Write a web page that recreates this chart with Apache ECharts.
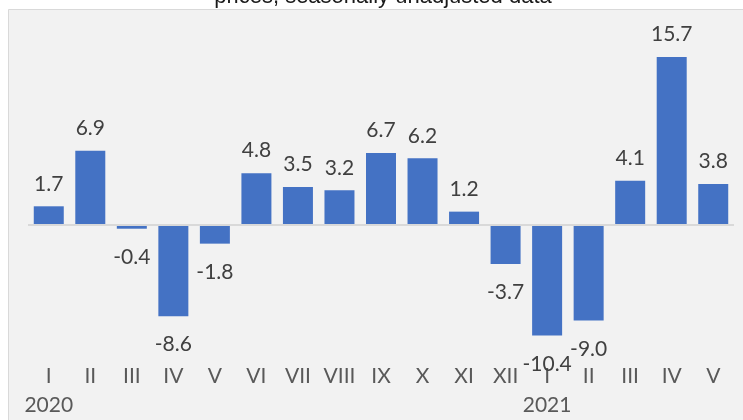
<!DOCTYPE html>
<html>
<head>
<meta charset="utf-8">
<script src="https://cdn.jsdelivr.net/npm/echarts@6/dist/echarts.min.js"></script>
<style>
html,body{margin:0;padding:0;background:#fff;}
#c{width:743px;height:420px;}
</style>
</head>
<body>
<div id="c"></div>
<script>
var categories = ['I','II','III','IV','V','VI','VII','VIII','IX','X','XI','XII','I','II','III','IV','V'];
var years = ['2020','','','','','','','','','','','','2021','','','',''];
var values = [1.7, 6.9, -0.4, -8.6, -1.8, 4.8, 3.5, 3.2, 6.7, 6.2, 1.2, -3.7, -10.4, -9.0, 4.1, 15.7, 3.8];
var titleText = 'prices, seasonally unadjusted data';

var chart = echarts.init(document.getElementById('c'));
var seriesData = values.map(function (v) {
  return {
    value: v,
    label: v >= 0 ? { position: 'top', distance: 12 } : { position: 'bottom', distance: 18 }
  };
});
chart.setOption({
  backgroundColor: '#ffffff',
  animation: false,
  graphic: [
    {
      type: 'rect', z: -10, silent: true,
      shape: { x: 8.5, y: 9.5, width: 740, height: 420 },
      style: { fill: '#f2f2f2', stroke: '#d9d9d9', lineWidth: 1 }
    },
    {
      type: 'text', z: 10, silent: true,
      x: 383, y: -3,
      style: {
        text: titleText, align: 'center', verticalAlign: 'middle',
        font: '22px "Liberation Sans", Arial, sans-serif', fill: '#1a1a1a'
      }
    }
  ],
  grid: { left: 28, right: 9, top: 53.7, bottom: 63, containLabel: false },
  xAxis: {
    type: 'category',
    data: categories,
    axisLine: { show: false, onZero: false },
    axisTick: { show: false },
    axisLabel: {
      interval: 0,
      margin: 9.5,
      color: '#595959',
      fontFamily: 'Lato',
      fontSize: 21,
      lineHeight: 29,
      formatter: function (val, idx) {
        return categories[idx] + (years[idx] ? '\n' + years[idx] : '');
      }
    },
    splitLine: { show: false }
  },
  yAxis: {
    type: 'value',
    min: -12, max: 16,
    show: false,
    splitLine: { show: false }
  },
  series: [{
    type: 'bar',
    data: seriesData,
    barWidth: 30,
    itemStyle: { color: '#4472C4' },
    label: {
      show: true,
      color: '#404040',
      fontFamily: 'Lato',
      fontSize: 21,
      formatter: function (p) { return p.value.toFixed(1); }
    },
    markLine: {
      silent: true,
      symbol: ['none', 'none'],
      label: { show: false },
      lineStyle: { color: '#d9d9d9', width: 2, type: 'solid' },
      data: [{ yAxis: 0 }]
    }
  }]
});
</script>
</body>
</html>
